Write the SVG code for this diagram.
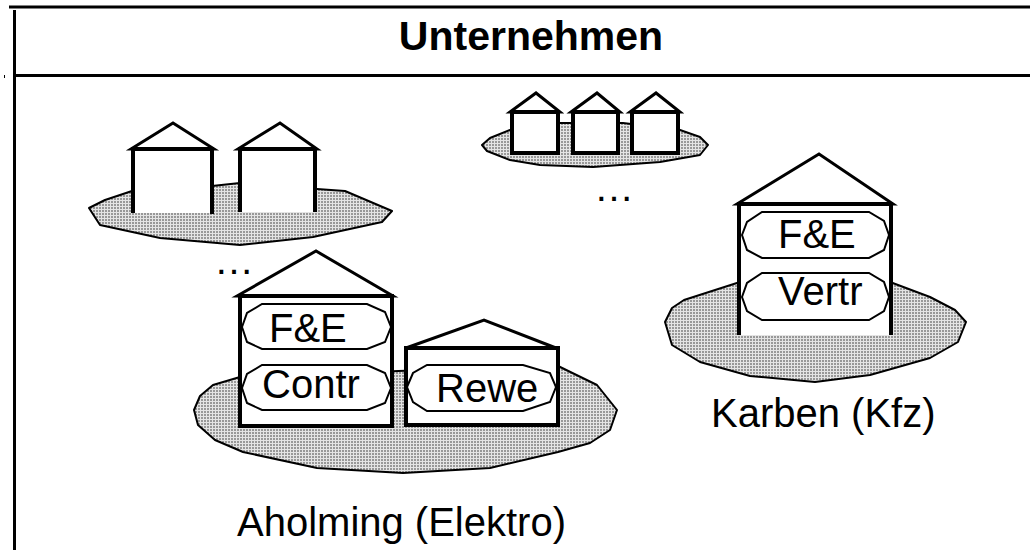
<svg xmlns="http://www.w3.org/2000/svg" width="1030" height="550" viewBox="0 0 1030 550">
  <defs>
    <!-- stippled ground texture -->
    <pattern id="dots" width="3" height="3" patternUnits="userSpaceOnUse">
      <rect width="3" height="3" fill="#e4e4e4"/>
      <rect width="2" height="2" fill="#989898"/>
    </pattern>
  </defs>
  <style>
    .frame { stroke: #000; stroke-width: 3; fill: none; }
    .ground { fill: url(#dots); stroke: #000; stroke-width: 2; stroke-linejoin: round; }
    .wall { fill: #fff; stroke: #000; stroke-width: 4; }
    .roof { fill: #fff; stroke: #000; stroke-width: 3; stroke-linejoin: miter; }
    .open { fill: none; stroke: #000; stroke-width: 4; }
    .pill { fill: #fff; stroke: #000; stroke-width: 2; }
    .lbl { font-family: "Liberation Sans", Arial, sans-serif; font-size: 40px; fill: #000; }
    .title { font-family: "Liberation Sans", Arial, sans-serif; font-size: 41px; font-weight: bold; fill: #000; }
  </style>

  <!-- outer frame with title bar -->
  <g id="frame">
    <line class="frame" x1="9" y1="7" x2="1030" y2="7"/>
    <line class="frame" x1="14.5" y1="10" x2="14.5" y2="550"/>
    <line class="frame" x1="14" y1="75.5" x2="1030" y2="75.5"/>
    <line x1="4.5" y1="75" x2="4.5" y2="78" stroke="#000" stroke-width="1"/>
    <text class="title" x="531" y="50" text-anchor="middle">Unternehmen</text>
  </g>

  <!-- upper-left site with two plain buildings -->
  <g id="site-left">
    <polygon class="ground" points="89,208 105,200 132,191 212,186 240,183 317,189 345,191 392,211 382,222 313,237 240,245 160,238 100,225"/>
    <rect x="133" y="149" width="79" height="64" fill="#fff"/>
    <polygon class="roof" points="131,149 173,123 214,149"/>
    <path class="open" d="M133,213 V149 H212 V214"/>
    <rect x="240" y="149" width="75" height="63" fill="#fff"/>
    <polygon class="roof" points="238,149 280,123 317,149"/>
    <path class="open" d="M240,212 V149 H315 V212"/>
  </g>

  <!-- upper-middle site with three small buildings -->
  <g id="site-middle">
    <polygon class="ground" points="482,145 490,138 510,130 560,123 623,123 680,130 700,137 708,145 700,155 660,162 593,167 540,165 510,160 487,151"/>
    <polygon class="roof" points="510,112 536,93 560,112"/>
    <rect class="wall" x="512" y="112" width="46" height="41"/>
    <polygon class="roof" points="571,112 597,93 620,112"/>
    <rect class="wall" x="573" y="112" width="45" height="41"/>
    <polygon class="roof" points="630,112 656,93 680,112"/>
    <rect class="wall" x="632" y="112" width="46" height="41"/>
    <text class="lbl" x="594" y="201">…</text>
  </g>

  <!-- Aholming site -->
  <g id="site-aholming">
    <polygon class="ground" points="194,410 200,396 213,385 240,377 556,365 597,385 617,410 610,430 590,443 558,452 490,468 403,473 317,468 243,452 215,440 198,425"/>
    <text class="lbl" x="214" y="274">…</text>
    <!-- main building -->
    <polygon class="roof" points="237,296 316,251 393,296"/>
    <rect class="wall" x="240" y="296" width="152" height="130" stroke-width="3.5"/>
    <polygon class="pill" points="242,327 247,313 262,304 367,304 385,312 391,327 385,342 367,349 262,349 247,342"/>
    <text class="lbl" x="269" y="342">F&amp;E</text>
    <polygon class="pill" points="242,388 247,374 262,365 367,365 385,373 391,388 385,403 367,410 262,410 247,403"/>
    <text class="lbl" x="262" y="398">Contr</text>
    <!-- side building -->
    <polygon class="roof" points="406,348 484,320 556,348" stroke-width="2"/>
    <rect class="wall" x="406" y="348" width="152" height="77" stroke-width="3.5"/>
    <polygon class="pill" points="407,387 413,373 427,365 523,365 550,373 556,387 550,402 523,411 427,411 413,402"/>
    <text class="lbl" x="436" y="402">Rewe</text>
    <text class="lbl" x="237" y="536">Aholming (Elektro)</text>
  </g>

  <!-- Karben site -->
  <g id="site-karben">
    <polygon class="ground" points="665,322 672,308 684,300 740,282 890,282 930,297 955,310 966,322 958,342 930,358 870,375 815,382 750,376 700,362 672,345"/>
    <rect x="739" y="204" width="152" height="131" fill="#fff"/>
    <polygon class="roof" points="737,204 819,154 893,204"/>
    <path class="open" d="M739,335 V204 H891 V335"/>
    <polygon class="pill" points="742,235 747,222 762,212 869,212 884,221 889,235 884,250 869,258 762,258 747,250"/>
    <text class="lbl" x="778" y="248">F&amp;E</text>
    <polygon class="pill" points="742,297 747,283 762,273 869,273 884,282 889,297 884,311 869,320 762,320 747,311"/>
    <text class="lbl" x="778" y="305" font-size="39">Vertr</text>
    <text class="lbl" x="711" y="427" font-size="42">Karben (Kfz)</text>
  </g>
</svg>
